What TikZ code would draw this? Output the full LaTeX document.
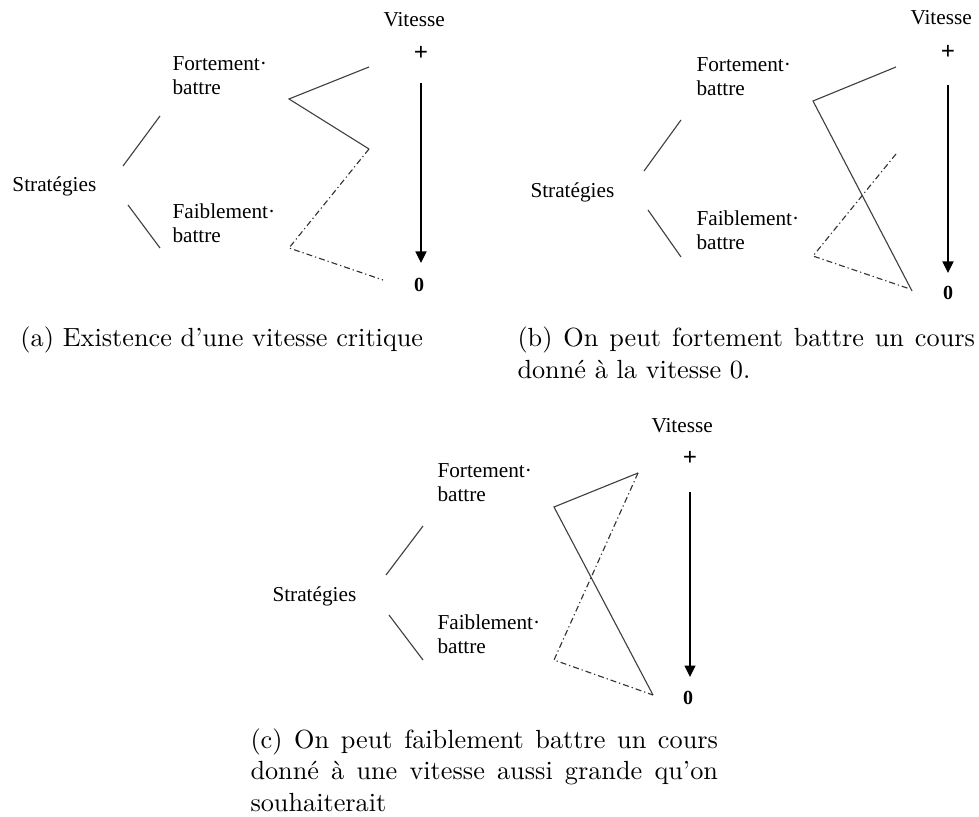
\documentclass[tikz,border=0pt]{standalone}
\usepackage{fontspec}
\newfontfamily\tnr{Liberation Serif}
\usetikzlibrary{arrows.meta}
\begin{document}
\begin{tikzpicture}[x=0.4pt,y=-0.4pt,
  thinline/.style={draw=black!75,line width=0.45pt},
  dashdotline/.style={draw=black!80,line width=0.45pt,dash pattern=on 2.4pt off 1.2pt on 0.5pt off 1.2pt},
  speedarrow/.style={draw=black,line width=0.6pt,-{Triangle[length=4.6pt,width=4.4pt]}},
  lbl/.style={font=\tnr\fontsize{8.5pt}{9.6pt}\selectfont,inner sep=0pt,anchor=base west,align=left},
  plus/.style={font=\tnr\bfseries\fontsize{10pt}{12pt}\selectfont,inner sep=0pt},
  zero/.style={font=\tnr\bfseries\fontsize{8pt}{10pt}\selectfont,inner sep=0pt},
  capt/.style={font=\fontsize{10.5pt}{12.6pt}\selectfont,inner sep=0pt,anchor=base west,align=justify}]
\useasboundingbox (0,0) rectangle (979,817);

% ---------- (a) ----------
\node[lbl] (aV) at (383,27) {Vitesse};
\node[plus] (aP) at (421,53) {+};
\node[zero] (aZ) at (419,285) {0};
\coordinate (aAt) at (421,83);
\coordinate (aAb) at (421,263);
\draw[speedarrow] (aAt) -- (aAb);
\node[lbl] (aS) at (12,192) {Stratégies};
\node[lbl] (aF) at (172,95) {Fortement·\\battre};
\node[lbl] (aW) at (172,243) {Faiblement·\\battre};
\coordinate (aS1) at (123,166); \coordinate (aF1) at (160,116);
\coordinate (aS2) at (128,205); \coordinate (aW1) at (160,248);
\draw[thinline] (aS1) -- (aF1);
\draw[thinline] (aS2) -- (aW1);
\coordinate (aT1) at (369,67); \coordinate (aT2) at (289,99); \coordinate (aT3) at (369,149);
\coordinate (aU2) at (289,248); \coordinate (aU3) at (383,280);
\draw[thinline] (aT1) -- (aT2) -- (aT3);
\draw[dashdotline] (aT3) -- (aU2) -- (aU3);
\node[capt,text width=175pt] (aC) at (20,347) {(a) Existence d'une vitesse critique};

% ---------- (b) ----------
\node[lbl] (bV) at (910,25) {Vitesse};
\node[plus] (bP) at (948,52) {+};
\node[zero] (bZ) at (948,293) {0};
\coordinate (bAt) at (948,85);
\coordinate (bAb) at (948,273);
\draw[speedarrow] (bAt) -- (bAb);
\node[lbl] (bS) at (530,198) {Stratégies};
\node[lbl] (bF) at (696,96) {Fortement·\\battre};
\node[lbl] (bW) at (696,250) {Faiblement·\\battre};
\coordinate (bS1) at (644,171); \coordinate (bF1) at (681,120);
\coordinate (bS2) at (648,210); \coordinate (bW1) at (681,257);
\draw[thinline] (bS1) -- (bF1);
\draw[thinline] (bS2) -- (bW1);
\coordinate (bT1) at (896,67); \coordinate (bT2) at (813,101); \coordinate (bT3) at (912,291);
\coordinate (bU1) at (896,154); \coordinate (bU2) at (813,256); \coordinate (bU3) at (910,289);
\draw[thinline] (bT1) -- (bT2) -- (bT3);
\draw[dashdotline] (bU1) -- (bU2) -- (bU3);
\node[capt,text width=183pt] (bC) at (517,347) {(b) On peut fortement battre un cours\linebreak donné à la vitesse 0.};

% ---------- (c) ----------
\node[lbl] (cV) at (651,433) {Vitesse};
\node[plus] (cP) at (690,458) {+};
\node[zero] (cZ) at (688,698) {0};
\coordinate (cAt) at (690,492);
\coordinate (cAb) at (690,677);
\draw[speedarrow] (cAt) -- (cAb);
\node[lbl] (cS) at (272,602) {Stratégies};
\node[lbl] (cF) at (437,502) {Fortement·\\battre};
\node[lbl] (cW) at (437,653) {Faiblement·\\battre};
\coordinate (cS1) at (386,575); \coordinate (cF1) at (423,526);
\coordinate (cS2) at (389,615); \coordinate (cW1) at (423,660);
\draw[thinline] (cS1) -- (cF1);
\draw[thinline] (cS2) -- (cW1);
\coordinate (cT1) at (638,473); \coordinate (cT2) at (554,507); \coordinate (cT3) at (653,695);
\coordinate (cU2) at (554,660);
\draw[thinline] (cT1) -- (cT2) -- (cT3);
\draw[dashdotline] (cT1) -- (cU2) -- (cT3);
\node[capt,text width=187pt] (cC) at (250,748) {(c) On peut faiblement battre un cours\linebreak donné à une vitesse aussi grande qu'on\linebreak souhaiterait};
\end{tikzpicture}
\end{document}
